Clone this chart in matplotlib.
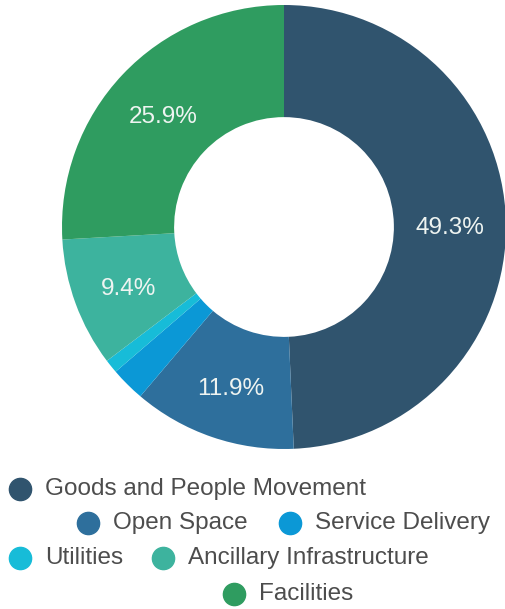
import matplotlib.pyplot as plt
import numpy as np
from matplotlib.lines import Line2D

plt.rcParams['font.family'] = ['Liberation Sans', 'DejaVu Sans']

categories = ['Goods and People Movement', 'Open Space', 'Service Delivery',
              'Utilities', 'Ancillary Infrastructure', 'Facilities']
shares = [49.3, 11.9, 2.5, 1.0, 9.4, 25.9]
colors = ['#30546e', '#2e6f9c', '#0b98d6', '#17bcd8', '#3db39e', '#2f9c60']

W, H = 505, 609
fig = plt.figure(figsize=(W / 100, H / 100), dpi=100)

# donut: center ~(284, 227) px, outer radius ~222 px
cx, cy, r = 284, 227, 222
ax = fig.add_axes([(cx - r) / W, 1 - (cy + r) / H, 2 * r / W, 2 * r / H])
wedges, _ = ax.pie(shares, colors=colors, startangle=90, counterclock=False,
                   radius=1.0, wedgeprops=dict(width=0.505, linewidth=0))
ax.set_xlim(-1, 1)
ax.set_ylim(-1, 1)
ax.set_aspect('equal')
ax.axis('off')

for w, v in zip(wedges, shares):
    if v < 5:
        continue
    ang = np.deg2rad((w.theta1 + w.theta2) / 2)
    rr = 0.748
    ax.text(rr * np.cos(ang), rr * np.sin(ang) - 0.02, f'{v:.1f}%', ha='center', va='center',
            fontsize=17.5, color='#eef4f1')

# legend, laid out in centred rows like the original
rows = [[0], [1, 2], [3, 4], [5]]
row_y = [489, 523, 558, 594]
row_x = [[20], [88, 290], [20, 163], [234]]
for idxs, y, xs in zip(rows, row_y, row_x):
    for i, x in zip(idxs, xs):
        fig.add_artist(Line2D([x / W], [1 - y / H], marker='o', markersize=16,
                              color=colors[i], linestyle='none',
                              transform=fig.transFigure))
        fig.text((x + 25) / W, 1 - y / H, categories[i], ha='left', va='center',
                 fontsize=17.5, color='#4d4d4d')

fig.savefig('out.png', dpi=100)
